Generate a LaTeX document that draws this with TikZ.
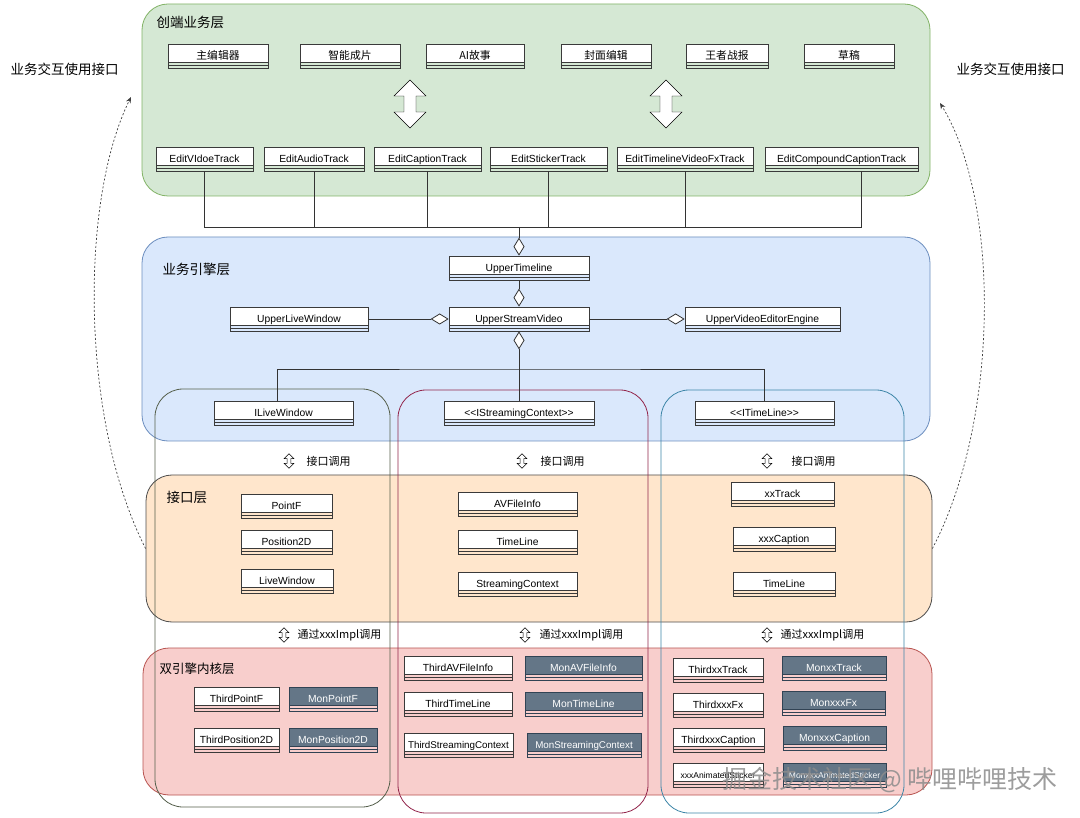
\documentclass[tikz,border=0pt]{standalone}
\usepackage{fontspec}
\setmainfont{Liberation Sans}
\newfontfamily\cjk{Noto Sans CJK SC}
\usetikzlibrary{arrows.meta}

\definecolor{greenfill}{HTML}{D5E8D4}
\definecolor{greenline}{HTML}{82B366}
\definecolor{bluefill}{HTML}{DAE8FC}
\definecolor{blueline}{HTML}{6C8EBF}
\definecolor{orangefill}{HTML}{FFE6CC}
\definecolor{orangeline}{HTML}{4D4D4D}
\definecolor{redfill}{HTML}{F8CECC}
\definecolor{redline}{HTML}{B85450}
\definecolor{coll}{HTML}{56604C}
\definecolor{colm}{HTML}{93264C}
\definecolor{colr}{HTML}{3E86A8}
\definecolor{clsline}{HTML}{3A3A3A}
\definecolor{monfill}{HTML}{647687}
\definecolor{monline}{HTML}{314354}
\definecolor{linkcol}{HTML}{333333}

\begin{document}
\begin{tikzpicture}[x=1pt, y=-1pt]
\tikzstyle{layer}=[rounded corners=26, inner sep=0pt, line width=0.8pt]
\tikzstyle{column}=[draw, rounded corners=28, inner sep=0pt, line width=0.8pt]
\tikzstyle{cls}=[draw=clsline, line width=0.7pt, inner sep=0pt, text height=15.5pt, text depth=8.5pt,
    font=\fontsize{10.3}{12}\selectfont,
    path picture={
        \fill[white] (path picture bounding box.north west) rectangle ([yshift=6pt]path picture bounding box.south east);
        \draw[clsline, line width=0.6pt] ([yshift=6pt]path picture bounding box.south west) -- ([yshift=6pt]path picture bounding box.south east);
        \draw[clsline, line width=0.6pt] ([yshift=3pt]path picture bounding box.south west) -- ([yshift=3pt]path picture bounding box.south east);
    }]
\tikzstyle{mon}=[cls, draw=monline, text=white,
    path picture={
        \fill[monfill] (path picture bounding box.north west) rectangle ([yshift=6pt]path picture bounding box.south east);
        \draw[monline, line width=0.6pt] ([yshift=6pt]path picture bounding box.south west) -- ([yshift=6pt]path picture bounding box.south east);
        \draw[monline, line width=0.6pt] ([yshift=3pt]path picture bounding box.south west) -- ([yshift=3pt]path picture bounding box.south east);
    }]
\tikzstyle{zh}=[font=\cjk\fontsize{10.8}{12}\selectfont]
\tikzstyle{title}=[anchor=west, font=\cjk\fontsize{13.5}{16}\selectfont]
\tikzstyle{note}=[anchor=west, font=\cjk\fontsize{11}{13}\selectfont]
\tikzstyle{link}=[draw=linkcol, line width=0.8pt]
\tikzstyle{agg}=[link, -{Diamond[fill=white, length=18pt, width=11pt]}]
\tikzstyle{iface}=[draw=black!75, line width=0.7pt, dash pattern=on 2pt off 2pt,
    -{Stealth[length=6pt, width=5pt]}]
\tikzset{updown/.pic={
    \draw[fill=white, line join=miter] (0,-24) -- (16,-8) -- (6,-8) -- (6,8) -- (16,8) -- (0,24)
        -- (-16,8) -- (-6,8) -- (-6,-8) -- (-16,-8) -- cycle;
}}

\path[use as bounding box, fill=white] (0,0) rectangle (1080,818);

% layers
\node (front) at (536, 100) [layer, fill=greenfill, draw=greenline, minimum width=788, minimum height=192] {};
\node (engine) at (536, 339) [layer, fill=bluefill, draw=blueline, minimum width=788, minimum height=204] {};
\node (api) at (539, 548.5) [layer, fill=orangefill, draw=orangeline, minimum width=786, minimum height=147] {};
\node (core) at (537.5, 721.5) [layer, fill=redfill, draw=redline, minimum width=789, minimum height=147] {};

\node (front-t) at (153, 22) [title] {创端业务层};
\node (engine-t) at (159, 269) [title] {业务引擎层};
\node (api-t) at (163, 497) [title] {接口层};
\node (core-t) at (156, 669) [title, font=\cjk\fontsize{12.5}{15}\selectfont] {双引擎内核层};

\node (use-l) at (7, 69) [title] {业务交互使用接口};
\node (use-r) at (953, 69) [title] {业务交互使用接口};

% columns
\node (col-l) at (272.5, 598) [column, draw=coll, minimum width=235, minimum height=418] {};
\node (col-m) at (523, 601.5) [column, draw=colm, minimum width=250, minimum height=423] {};
\node (col-r) at (782.5, 601.5) [column, draw=colr, minimum width=243, minimum height=423] {};

% front
\node (zbj) at (218, 56) [cls, zh, minimum width=100] {主编辑器};
\node (zncp) at (350, 56) [cls, zh, minimum width=100] {智能成片};
\node (aigs) at (475, 56) [cls, zh, minimum width=98] {AI故事};
\node (fmbj) at (606, 56) [cls, zh, minimum width=90] {封面编辑};
\node (wzzb) at (727, 56) [cls, zh, minimum width=82] {王者战报};
\node (cg) at (849, 56) [cls, zh, minimum width=90] {草稿};

\pic at (410, 104) {updown};
\pic at (666, 104) {updown};

\node (evt) at (204.5, 159) [cls, minimum width=97] {EditVIdoeTrack};
\node (eat) at (314, 159) [cls, minimum width=100] {EditAudioTrack};
\node (ect) at (427.5, 159) [cls, minimum width=107] {EditCaptionTrack};
\node (est) at (548.5, 159) [cls, minimum width=117] {EditStickerTrack};
\node (etv) at (685, 159) [cls, minimum width=136] {EditTimelineVideoFxTrack};
\node (ecc) at (841.5, 159) [cls, minimum width=153] {EditCompoundCaptionTrack};

% engine
\node (utl) at (519, 268) [cls, minimum width=140] {UpperTimeline};
\node (usv) at (519, 319) [cls, minimum width=140] {UpperStreamVideo};
\node (ulw) at (299, 319) [cls, minimum width=138] {UpperLiveWindow};
\node (uvee) at (762.5, 319) [cls, minimum width=155] {UpperVideoEditorEngine};

\node (ilw) at (283.5, 413) [cls, minimum width=139] {ILiveWindow};
\node (isc) at (519, 413) [cls, minimum width=150] {<{}<IStreamingContext>{}>};
\node (itl) at (764.5, 413) [cls, minimum width=139] {<{}<ITimeLine>{}>};

\coordinate (bus) at (519, 227);
\foreach \n in {evt, eat, ect, est, etv}
    \draw [link] (\n.south) |- (bus);
\draw [link] ([xshift=20]ecc.south) |- (bus);
\draw [agg] (bus) to (utl.north);

\draw [agg] (utl.south) to (usv.north);
\draw [agg] (ulw.east) to (usv.west);
\draw [agg] (usv.east) to (uvee.west);
\draw [agg] (isc.north) to (usv.south);
\coordinate (hub) at (519, 369);
\draw [link] ([xshift=-6]ilw.north) |- (hub) -| (itl.north);

\pic [scale=0.3, line width=0.5pt] at (289, 461) {updown};
\pic [scale=0.3, line width=0.5pt] at (522, 461) {updown};
\pic [scale=0.3, line width=0.5pt] at (767, 461) {updown};
\node (call-l) at (303, 461) [note] {接口调用};
\node (call-m) at (537, 461) [note] {接口调用};
\node (call-r) at (788, 461) [note] {接口调用};

% api
\node (pf) at (286.5, 506) [cls, minimum width=91] {PointF};
\node (p2d) at (286.5, 542) [cls, minimum width=91] {Position2D};
\node (lw) at (287, 581) [cls, minimum width=92] {LiveWindow};
\node (avf) at (517.5, 504) [cls, minimum width=119] {AVFileInfo};
\node (tl-m) at (517.5, 542) [cls, minimum width=119] {TimeLine};
\node (sc) at (517.5, 584) [cls, minimum width=119] {StreamingContext};
\node (xxt) at (782.5, 494) [cls, minimum width=103] {xxTrack};
\node (xxc) at (784, 539) [cls, minimum width=102] {xxxCaption};
\node (tl-r) at (784, 584) [cls, minimum width=102] {TimeLine};

\pic [scale=0.3, line width=0.5pt] at (284, 635) {updown};
\pic [scale=0.3, line width=0.5pt] at (525, 635) {updown};
\pic [scale=0.3, line width=0.5pt] at (767, 635) {updown};
\node (impl-l) at (294, 635) [note] {通过xxxImpl调用};
\node (impl-m) at (536, 635) [note] {通过xxxImpl调用};
\node (impl-r) at (777, 635) [note] {通过xxxImpl调用};

% core
\node (tpf) at (236.5, 699) [cls, minimum width=85] {ThirdPointF};
\node (mpf) at (333, 699) [mon, minimum width=88] {MonPointF};
\node (tp2d) at (236.5, 740) [cls, minimum width=85] {ThirdPosition2D};
\node (mp2d) at (333, 740) [mon, minimum width=88] {MonPosition2D};

\node (tavf) at (458, 668) [cls, minimum width=108] {ThirdAVFileInfo};
\node (mavf) at (583.5, 668) [mon, minimum width=117] {MonAVFileInfo};
\node (ttl) at (458, 704) [cls, minimum width=108] {ThirdTimeLine};
\node (mtl) at (583.5, 704) [mon, minimum width=117] {MonTimeLine};
\node (tsc) at (458.5, 745) [cls, minimum width=109, font=\fontsize{9.8}{12}\selectfont] {ThirdStreamingContext};
\node (msc) at (584, 745) [mon, minimum width=114, font=\fontsize{9.8}{12}\selectfont] {MonStreamingContext};

\node (txt) at (718, 670) [cls, minimum width=90] {ThirdxxTrack};
\node (mxt) at (834, 668) [mon, minimum width=104] {MonxxTrack};
\node (txf) at (718, 705) [cls, minimum width=90] {ThirdxxxFx};
\node (mxf) at (833.5, 703) [mon, minimum width=103] {MonxxxFx};
\node (txc) at (718.5, 740) [cls, minimum width=91] {ThirdxxxCaption};
\node (mxc) at (834.5, 738) [mon, minimum width=103] {MonxxxCaption};
\node (txa) at (718, 775) [cls, minimum width=90, font=\fontsize{8.5}{10}\selectfont] {xxxAnimatedSticker};
\node (mxa) at (834.5, 775) [mon, minimum width=103, font=\fontsize{8.5}{10}\selectfont] {MonxxxAnimatedSticker};

% interface calls between layers
\coordinate (use-l-tip) at (131, 97);
\coordinate (use-r-tip) at (940, 103);
\draw [iface] (api.west) .. controls (80, 420) and (80, 200) .. (use-l-tip);
\draw [iface] (api.east) .. controls (1000, 420) and (1000, 200) .. (use-r-tip);

\node (mark) at (890, 780) [font=\cjk\fontsize{25}{28}\selectfont, text=black!45, opacity=0.85] {掘金技术社区 @ 哔哩哔哩技术};

\end{tikzpicture}
\end{document}
